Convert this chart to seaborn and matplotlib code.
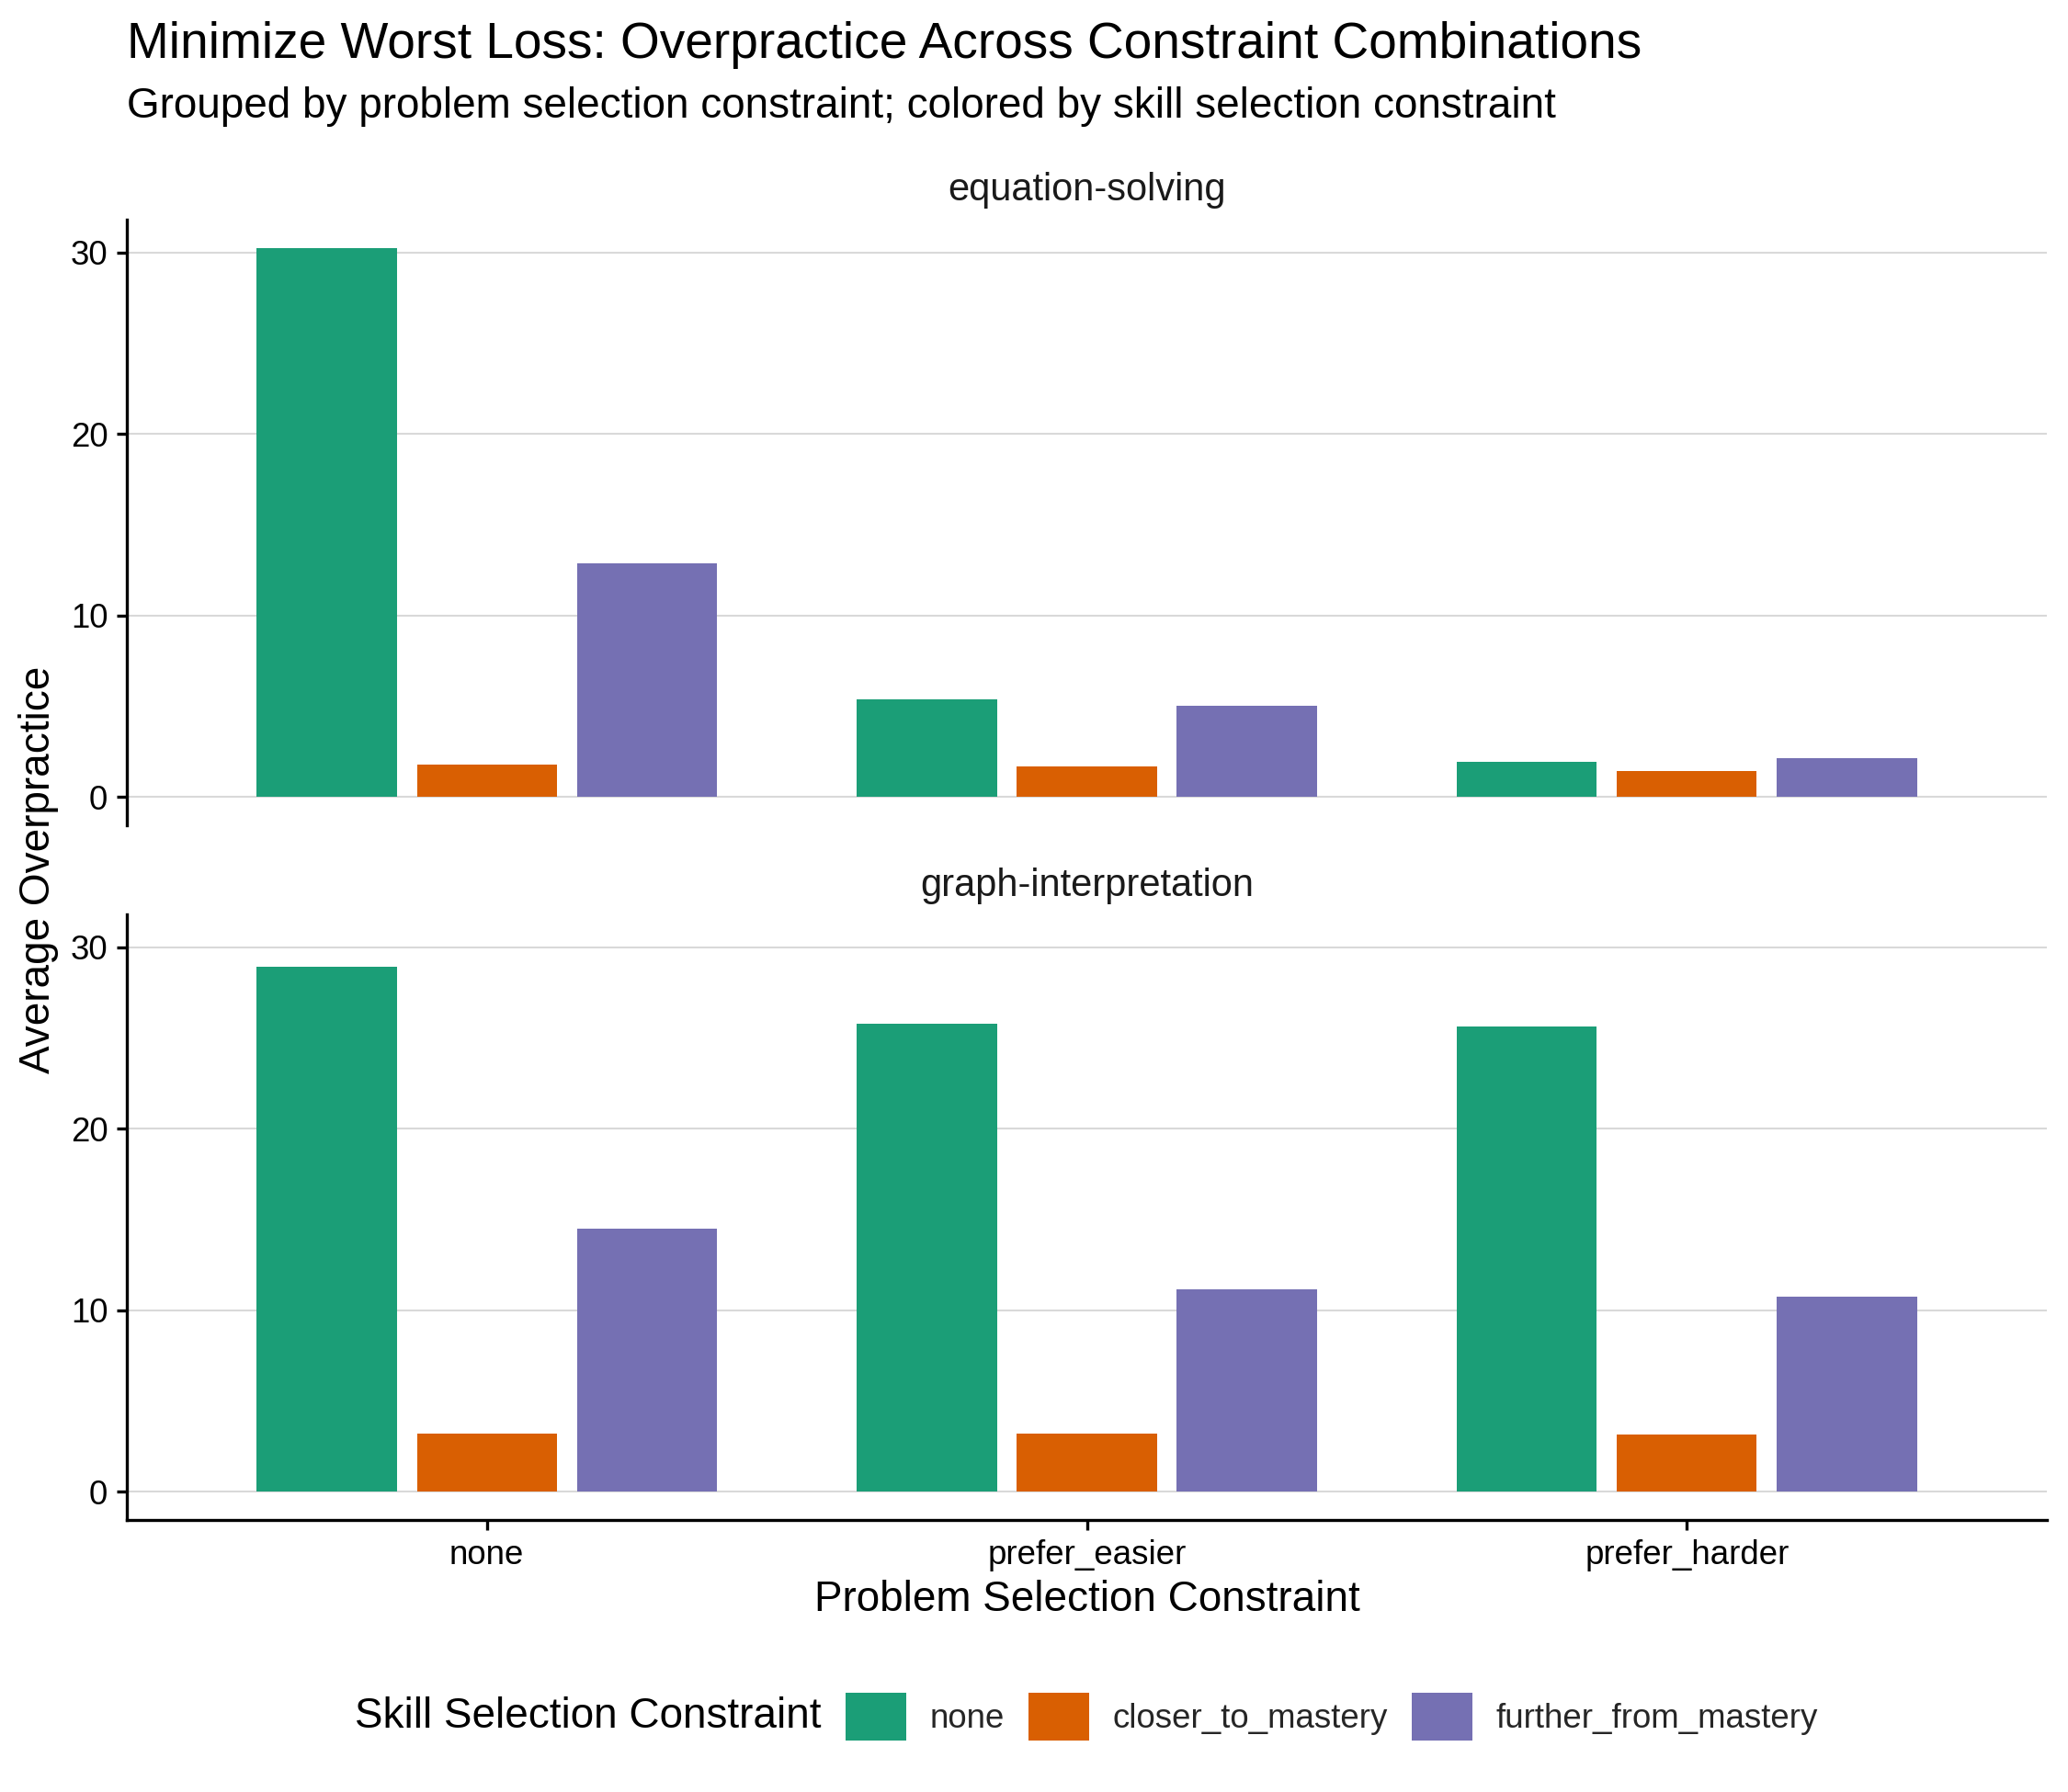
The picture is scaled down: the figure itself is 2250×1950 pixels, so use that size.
import matplotlib
matplotlib.use("Agg")
import matplotlib.pyplot as plt
import seaborn as sns
import pandas as pd
from matplotlib.patches import Patch

# ---- data ----
problems = ["none", "prefer_easier", "prefer_harder"]
skills = ["none", "closer_to_mastery", "further_from_mastery"]
facets = ["equation-solving", "graph-interpretation"]

eq_none = [30.25, 5.40, 1.96]
eq_closer = [1.81, 1.71, 1.45]
eq_further = [12.89, 5.05, 2.16]

gr_none = [28.91, 25.80, 25.62]
gr_closer = [3.22, 3.23, 3.18]
gr_further = [14.47, 11.13, 10.77]

colors = ["#1B9E77", "#D95F02", "#7570B3"]

rows = []
for facet, series in zip(facets, [(eq_none, eq_closer, eq_further),
                                  (gr_none, gr_closer, gr_further)]):
    for skill, vals in zip(skills, series):
        for prob, v in zip(problems, vals):
            rows.append({"facet": facet, "problem": prob, "skill": skill, "value": v})
df = pd.DataFrame(rows)

sns.set_theme(style="white")
plt.rcParams["font.family"] = ["Liberation Sans", "DejaVu Sans"]

W, H = 2250, 1950
fig = plt.figure(figsize=(7.5, 6.5), dpi=300)

left = 138 / W
width = (2227 - 138) / W
ph = 659 / H
ax1 = fig.add_axes([left, 1 - 898 / H, width, ph])
ax2 = fig.add_axes([left, 1 - 1654 / H, width, ph])

axis_lw = 0.8
grid_c = "#D9D9D9"

for ax, facet, strip_y in [(ax1, facets[0], 218), (ax2, facets[1], 975)]:
    sub = df[df["facet"] == facet]
    sns.barplot(data=sub, x="problem", y="value", hue="skill",
                order=problems, hue_order=skills, palette=colors,
                width=0.8, gap=0.125, saturation=1, errorbar=None,
                linewidth=0, legend=False, ax=ax, zorder=3)
    ax.set_xlim(-0.6, 2.6)
    ax.set_ylim(-1.55, 31.8)
    ax.set_yticks([0, 10, 20, 30])
    ax.set_yticklabels(["0", "10", "20", "30"])
    ax.yaxis.grid(True, color=grid_c, linewidth=0.5, zorder=0)
    ax.xaxis.grid(False)
    ax.set_axisbelow(True)
    for s in ["top", "right"]:
        ax.spines[s].set_visible(False)
    ax.spines["left"].set_color("black")
    ax.spines["left"].set_linewidth(axis_lw)
    ax.spines["bottom"].set_color("black")
    ax.spines["bottom"].set_linewidth(axis_lw)
    ax.tick_params(axis="y", which="major", length=2.75, width=axis_lw,
                   color="black", labelsize=8.8, labelcolor="black", pad=2.2, left=True)
    ax.set_xlabel("")
    ax.set_ylabel("")
    fig.text((138 + 2227) / 2 / W, 1 - strip_y / H, facet, ha="center",
             va="baseline", fontsize=10, color="#1A1A1A")

ax1.spines["bottom"].set_visible(False)
ax1.tick_params(axis="x", bottom=False, labelbottom=False)
ax2.tick_params(axis="x", which="major", length=2.75, width=axis_lw, color="black",
                labelsize=8.8, labelcolor="black", pad=2.2, bottom=True)

# titles
fig.text(138 / W, 1 - 63 / H, "Minimize Worst Loss: Overpractice Across Constraint Combinations",
         ha="left", va="baseline", fontsize=13.2, color="black")
fig.text(138 / W, 1 - 128 / H,
         "Grouped by problem selection constraint; colored by skill selection constraint",
         ha="left", va="baseline", fontsize=11, color="black")

# axis titles
fig.text((138 + 2227) / 2 / W, 1 - 1753 / H, "Problem Selection Constraint",
         ha="center", va="baseline", fontsize=11, color="black")
fig.text(42 / W, 1 - 946 / H, "Average Overpractice", rotation=90,
         ha="center", va="center", fontsize=11, color="black")

# legend
handles = [Patch(facecolor=c, edgecolor="none") for c in colors]
fig.text(893 / W, 1 - 1868 / H, "Skill Selection Constraint", ha="right",
         va="center", fontsize=11, color="black")
fig.legend(handles, skills, loc="center left", bbox_to_anchor=(920 / W, 1 - 1868 / H),
           ncol=3, frameon=False, handlelength=1.8, handleheight=1.8,
           handletextpad=0.69, columnspacing=0.72, borderpad=0, borderaxespad=0,
           fontsize=8.8)

fig.savefig("out.png", dpi=300, facecolor="white")
